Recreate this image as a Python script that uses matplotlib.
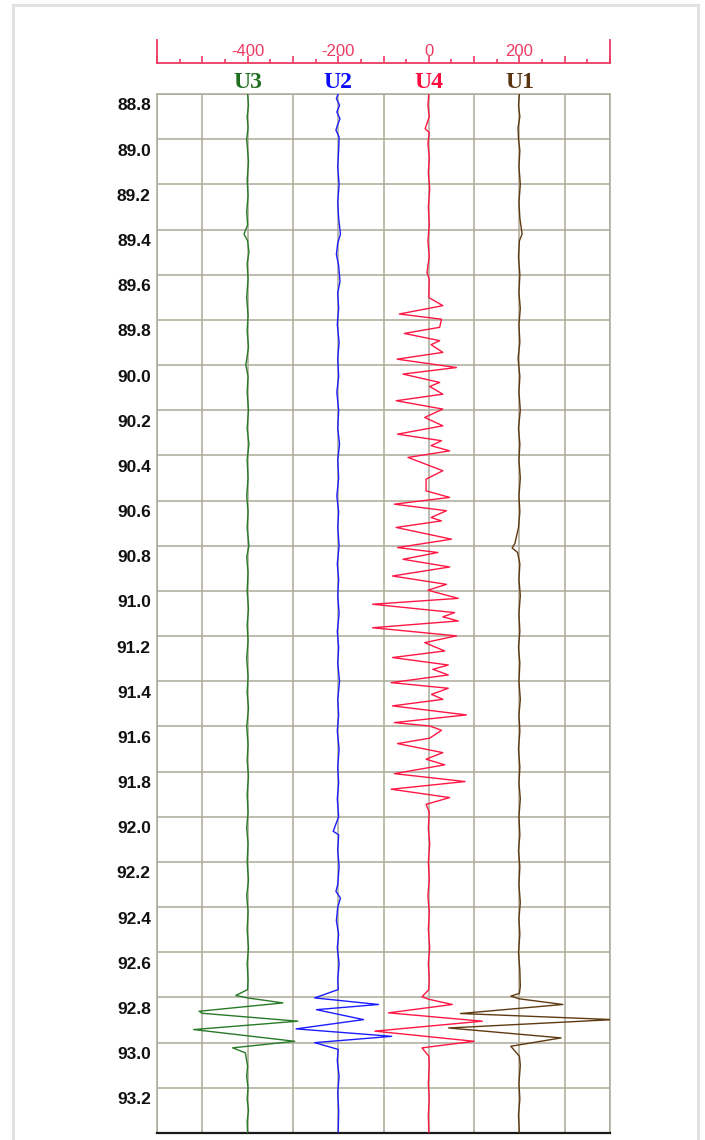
import matplotlib
matplotlib.use("Agg")
import matplotlib.pyplot as plt
import matplotlib.transforms as mtransforms
from matplotlib.patches import Rectangle
from matplotlib.ticker import MultipleLocator

# ---------------- data ----------------
DEPTH_TICKS = [88.8, 89.0, 89.2, 89.4, 89.6, 89.8, 90.0, 90.2, 90.4, 90.6, 90.8, 91.0,
               91.2, 91.4, 91.6, 91.8, 92.0, 92.2, 92.4, 92.6, 92.8, 93.0, 93.2]
DEPTH_TICK_LABELS = ["88.8", "89.0", "89.2", "89.4", "89.6", "89.8", "90.0", "90.2", "90.4",
                     "90.6", "90.8", "91.0", "91.2", "91.4", "91.6", "91.8", "92.0", "92.2",
                     "92.4", "92.6", "92.8", "93.0", "93.2"]
TOP_TICK_VALUES = [-400, -200, 0, 200]
TOP_TICK_LABELS = ["-400", "-200", "0", "200"]
CURVE_NAMES = ["U3", "U2", "U4", "U1"]
CURVE_BASELINES = [-400, -200, 0, 200]

U3_DEPTH = [88.80, 88.85, 88.90, 88.95, 89.00, 89.05, 89.10, 89.18, 89.25, 89.32,
            89.38, 89.42, 89.45, 89.50, 89.55, 89.62, 89.70, 89.78, 89.85, 89.92,
            90.00, 90.05, 90.12, 90.20, 90.28, 90.35, 90.42, 90.50, 90.58, 90.65,
            90.72, 90.80, 90.85, 90.92, 91.00, 91.08, 91.15, 91.22, 91.30, 91.38,
            91.45, 91.52, 91.60, 91.68, 91.75, 91.82, 91.90, 91.98, 92.05, 92.12,
            92.20, 92.28, 92.35, 92.42, 92.50, 92.58, 92.65, 92.72, 92.765, 92.791,
            92.802, 92.824, 92.861, 92.870, 92.905, 92.942, 92.994, 93.023, 93.045, 93.104,
            93.15, 93.20, 93.25, 93.30, 93.35, 93.40]
U3_VALUE = [-400, -398, -401, -399, -402, -400, -398, -401, -399, -402,
            -400, -408, -400, -397, -401, -399, -402, -399, -401, -398,
            -404, -399, -401, -398, -401, -397, -401, -399, -402, -399,
            -401, -397, -402, -399, -401, -398, -401, -399, -402, -399,
            -401, -398, -402, -399, -401, -398, -401, -399, -402, -399,
            -401, -398, -402, -399, -401, -398, -401, -399, -400, -426,
            -400, -322, -507, -500, -289, -519, -296, -433, -405, -400,
            -402, -399, -401, -398, -401, -400]

U2_DEPTH = [88.80, 88.82, 88.85, 88.88, 88.91, 88.94, 88.96, 88.99, 89.05, 89.12,
            89.20, 89.28, 89.35, 89.42, 89.46, 89.51, 89.56, 89.63, 89.68, 89.75,
            89.82, 89.90, 89.97, 90.05, 90.12, 90.20, 90.28, 90.35, 90.42, 90.50,
            90.58, 90.65, 90.72, 90.80, 90.88, 90.95, 91.02, 91.10, 91.18, 91.25,
            91.32, 91.40, 91.48, 91.55, 91.62, 91.70, 91.78, 91.85, 91.92, 92.00,
            92.064, 92.08, 92.15, 92.22, 92.30, 92.33, 92.36, 92.40, 92.46, 92.52,
            92.58, 92.65, 92.72, 92.765, 92.802, 92.831, 92.854, 92.898, 92.939, 92.972,
            93.000, 93.030, 93.08, 93.15, 93.22, 93.30, 93.40]
U2_VALUE = [-200, -204, -197, -203, -196, -202, -205, -198, -199, -201,
            -198, -201, -199, -195, -201, -204, -199, -196, -201, -199,
            -202, -198, -201, -199, -203, -199, -201, -197, -201, -199,
            -203, -199, -201, -198, -202, -199, -201, -198, -202, -199,
            -201, -197, -201, -199, -202, -198, -201, -199, -202, -199,
            -211, -199, -201, -198, -201, -205, -195, -201, -204, -199,
            -202, -198, -201, -200, -252, -111, -248, -144, -293, -82,
            -252, -200, -202, -198, -201, -199, -200]

U4_DEPTH = [88.80, 88.85, 88.90, 88.954, 88.97, 89.02, 89.08, 89.15, 89.22, 89.30,
            89.38, 89.45, 89.52, 89.59, 89.62, 89.701, 89.737, 89.774, 89.797, 89.833,
            89.860, 89.892, 89.910, 89.944, 89.974, 90.011, 90.040, 90.077, 90.095, 90.129,
            90.158, 90.195, 90.232, 90.269, 90.306, 90.335, 90.357, 90.380, 90.409, 90.468,
            90.505, 90.557, 90.586, 90.616, 90.645, 90.675, 90.690, 90.719, 90.771, 90.808,
            90.830, 90.860, 90.894, 90.934, 90.971, 90.997, 91.033, 91.059, 91.096, 91.115,
            91.133, 91.163, 91.199, 91.229, 91.266, 91.295, 91.328, 91.347, 91.372, 91.406,
            91.431, 91.458, 91.480, 91.509, 91.549, 91.583, 91.598, 91.617, 91.652, 91.676,
            91.716, 91.745, 91.770, 91.809, 91.844, 91.878, 91.915, 91.945, 91.98, 92.05,
            92.12, 92.20, 92.28, 92.35, 92.42, 92.50, 92.58, 92.65, 92.72, 92.765,
            92.797, 92.808, 92.831, 92.868, 92.905, 92.949, 92.994, 93.023, 93.060, 93.10,
            93.18, 93.25, 93.32, 93.40]
U4_VALUE = [0, -2, 1, -8, 1, -2, 1, -1, 2, -1,
            1, -2, 1, -4, 1, 0, 31, -65, 28, 24,
            -54, 24, 5, 31, -70, 61, -57, 24, 2, 31,
            -72, 31, -9, 31, -69, 28, 5, 46, -46, 31,
            -6, -6, 46, -76, 39, 5, 28, -72, 50, -69,
            20, -57, 46, -80, 39, -2, 65, -124, 57, 31,
            65, -124, 61, -9, 35, -80, 43, 9, 43, -83,
            43, 6, 31, -80, 83, -76, 2, 28, 2, -69,
            31, -6, 35, -76, 80, -83, 46, -6, 1, -1,
            2, -1, 1, -2, 1, -1, 2, -1, 1, 0,
            -15, 0, 52, -89, 118, -119, 100, -15, 0, 1,
            -1, 1, -1, 0]

U1_DEPTH = [88.80, 88.85, 88.90, 88.95, 89.00, 89.05, 89.12, 89.20, 89.28, 89.35,
            89.42, 89.45, 89.52, 89.60, 89.68, 89.75, 89.82, 89.90, 89.97, 90.05,
            90.12, 90.20, 90.28, 90.35, 90.42, 90.50, 90.58, 90.65, 90.72, 90.79,
            90.81, 90.83, 90.88, 90.95, 91.02, 91.10, 91.18, 91.25, 91.32, 91.40,
            91.48, 91.55, 91.62, 91.70, 91.78, 91.85, 91.92, 92.00, 92.08, 92.15,
            92.22, 92.30, 92.38, 92.45, 92.52, 92.60, 92.68, 92.75, 92.782, 92.794,
            92.806, 92.831, 92.871, 92.898, 92.935, 92.979, 93.016, 93.060, 93.10, 93.18,
            93.25, 93.32, 93.40]
U1_VALUE = [200, 198, 201, 197, 198, 201, 199, 202, 199, 201,
            206, 200, 198, 201, 199, 202, 199, 201, 197, 201,
            199, 202, 198, 201, 199, 202, 199, 201, 198, 190,
            184, 196, 201, 199, 202, 199, 201, 198, 201, 199,
            202, 199, 201, 198, 201, 199, 202, 199, 201, 198,
            201, 199, 202, 199, 201, 198, 201, 202, 200, 181,
            200, 296, 70, 407, 44, 292, 181, 200, 202, 199,
            201, 198, 200]

# ---------------- style / layout ----------------
W, H = 705, 1140
GRID_COLOR = "#aca899"
AXIS_RED = "#ec3a62"
COLORS = {"U3": "#287a28", "U2": "#1c1cff", "U4": "#ff1744", "U1": "#5e3a12"}
LABEL_COLORS = {"U3": "#1f6e1f", "U2": "#0a0aff", "U4": "#ff0a3c", "U1": "#5a3410"}

def fx(px):
    return px / W

def fy(py):
    return 1 - py / H

plot_left, plot_right, plot_top, plot_bottom = 157, 610, 94, 1133

fig = plt.figure(figsize=(W / 100, H / 100), dpi=100)
fig.patch.set_facecolor("white")

# outer light frame
fig.patches.append(Rectangle((fx(12.8), fy(1160)), fx(698.3) - fx(12.8), fy(5.3) - fy(1160),
                             transform=fig.transFigure, fill=False,
                             edgecolor="#e2e2e2", linewidth=2.2))

ax = fig.add_axes([fx(plot_left), fy(plot_bottom), fx(plot_right) - fx(plot_left),
                   fy(plot_top) - fy(plot_bottom)])
ax.set_xlim(-600, 400)
ax.set_ylim(93.4, 88.8)
ax.xaxis.set_major_locator(MultipleLocator(100))
ax.set_yticks(DEPTH_TICKS)
ax.set_yticklabels(DEPTH_TICK_LABELS, fontfamily="Liberation Sans", fontweight="bold",
                   fontsize=12.5, color="#111111")
ax.tick_params(axis="x", length=0, labelbottom=False)
ax.tick_params(axis="y", length=0, pad=4.5)
ax.grid(True, color=GRID_COLOR, linewidth=1.1)
ax.set_axisbelow(True)
for s in ["left", "right", "top"]:
    ax.spines[s].set_color(GRID_COLOR)
    ax.spines[s].set_linewidth(1.1)
ax.spines["bottom"].set_color("#1a1a1a")
ax.spines["bottom"].set_linewidth(1.6)

offset = mtransforms.ScaledTranslation(0, -4.5 / 100, fig.dpi_scale_trans)
for lbl in ax.get_yticklabels():
    lbl.set_verticalalignment("top")
    lbl.set_transform(lbl.get_transform() + offset)

curves = {"U3": (U3_DEPTH, U3_VALUE), "U2": (U2_DEPTH, U2_VALUE),
          "U4": (U4_DEPTH, U4_VALUE), "U1": (U1_DEPTH, U1_VALUE)}
for name in CURVE_NAMES:
    d, v = curves[name]
    ax.plot(v, d, color=COLORS[name], linewidth=1.0, zorder=3)

# curve name labels above plot
lbl_tr = mtransforms.blended_transform_factory(ax.transData, fig.transFigure)
for name, base in zip(CURVE_NAMES, CURVE_BASELINES):
    ax.text(base, fy(88), name, transform=lbl_tr, ha="center", va="baseline",
            fontfamily="Liberation Serif", fontweight="bold", fontsize=17,
            color=LABEL_COLORS[name], clip_on=False)

# top red scale
ax2 = fig.add_axes([fx(plot_left), fy(63.3), fx(plot_right) - fx(plot_left),
                    fy(40) - fy(63.3)])
ax2.set_xlim(-600, 400)
ax2.set_ylim(0, 1)
ax2.patch.set_alpha(0)
ax2.spines["top"].set_visible(False)
for s in ["left", "right", "bottom"]:
    ax2.spines[s].set_color(AXIS_RED)
    ax2.spines[s].set_linewidth(1.3)
ax2.xaxis.set_major_locator(MultipleLocator(100))
ax2.xaxis.set_minor_locator(MultipleLocator(50))
ax2.tick_params(axis="x", which="major", direction="in", length=4.8, width=1.2,
                color=AXIS_RED, labelbottom=False)
ax2.tick_params(axis="x", which="minor", direction="in", length=2.9, width=1.2,
                color=AXIS_RED)
ax2.set_yticks([])
tr2 = mtransforms.blended_transform_factory(ax2.transData, fig.transFigure)
for val, txt in zip(TOP_TICK_VALUES, TOP_TICK_LABELS):
    ax2.text(val, fy(55.5), txt, transform=tr2, ha="center", va="baseline",
             fontfamily="Liberation Sans", fontsize=12, color=AXIS_RED, clip_on=False)

fig.savefig("out.png", dpi=100, facecolor="white")
